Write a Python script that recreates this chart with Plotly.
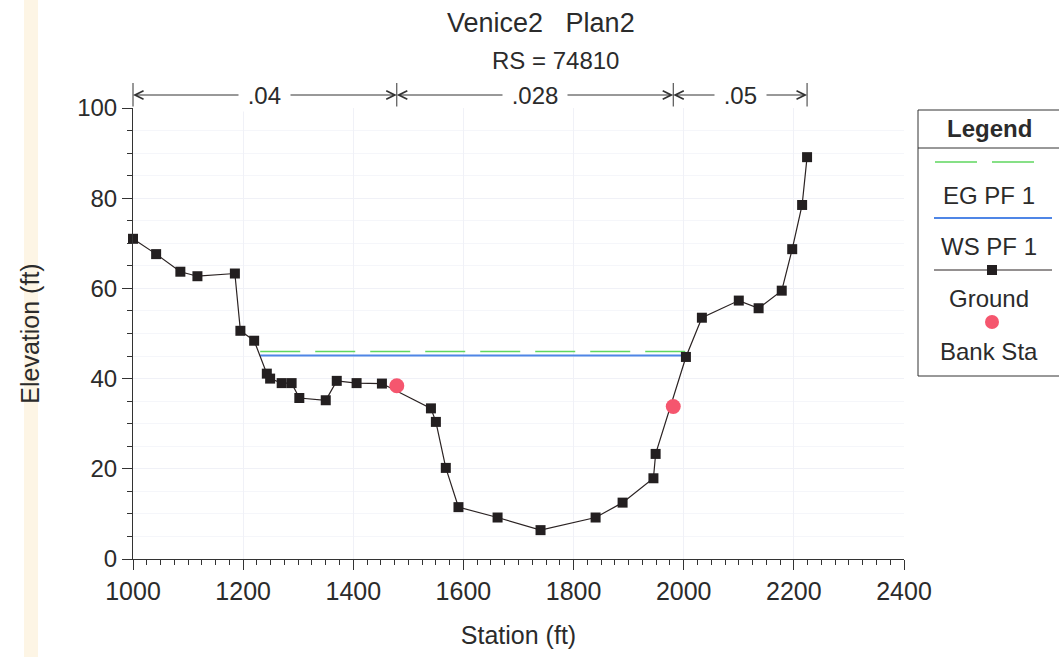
import plotly.graph_objects as go

# ---------------- data ----------------
ground_station = [1000, 1042, 1086, 1117, 1185, 1195, 1220, 1243, 1249, 1270, 1288,
                  1302, 1350, 1370, 1406, 1452, 1541, 1550, 1568, 1591, 1662, 1740,
                  1840, 1889, 1945, 1949, 2004, 2033, 2100, 2136, 2178, 2197, 2215, 2224]
ground_elev = [71.0, 67.6, 63.7, 62.7, 63.3, 50.6, 48.4, 41.1, 40.0, 39.0, 39.0,
               35.7, 35.2, 39.5, 39.0, 38.9, 33.4, 30.4, 20.2, 11.5, 9.2, 6.4,
               9.2, 12.5, 17.9, 23.3, 44.8, 53.5, 57.3, 55.6, 59.5, 68.7, 78.5, 89.1]

bank_station = [1479, 1981]
bank_elev = [38.4, 33.8]

ws_station = [1231, 2005]
ws_elev = [45.1, 45.1]
eg_station = [1231, 2005]
eg_elev = [46.0, 46.0]

n_breaks = [1000, 1479, 1981, 2224]
n_values = [".04", ".028", ".05"]

x_range = [1000, 2400]
y_range = [0, 100]

# ---------------- layout geometry ----------------
W, H = 1059, 657
L, R, T, B = 133, 1059 - 904, 108, 657 - 559
PW, PH = W - L - R, H - T - B


def px(p):
    return (p - L) / PW


def py(p):
    return (H - B - p) / PH


FONT = "Liberation Sans, Arial, sans-serif"
TXT = "#2b2b2b"
EG_COL = "#5fd65f"
WS_COL = "#4f86e6"
GR_COL = "#231f20"
BK_COL = "#f5566e"

fig = go.Figure()

fig.add_trace(go.Scatter(x=eg_station, y=eg_elev, mode="lines",
                         line=dict(color=EG_COL, width=1.5, dash="40px,15px"),
                         name="EG PF 1", showlegend=False))
fig.add_trace(go.Scatter(x=ws_station, y=ws_elev, mode="lines",
                         line=dict(color=WS_COL, width=2),
                         name="WS PF 1", showlegend=False))
fig.add_trace(go.Scatter(x=ground_station, y=ground_elev, mode="lines+markers",
                         line=dict(color="#2a2222", width=1.2),
                         marker=dict(symbol="square", size=10, color=GR_COL),
                         name="Ground", showlegend=False, cliponaxis=False))
fig.add_trace(go.Scatter(x=bank_station, y=bank_elev, mode="markers",
                         marker=dict(symbol="circle", size=15, color=BK_COL),
                         name="Bank Sta", showlegend=False, cliponaxis=False))

annotations = []
shapes = []


def label(x, y, text, size, bold=False, xref="paper", yref="paper", **kw):
    if bold:
        text = "<b>" + text + "</b>"
    d = dict(x=x, y=y, xref=xref, yref=yref, text=text, showarrow=False,
             xanchor="center", yanchor="middle",
             font=dict(family=FONT, size=size, color=TXT))
    d.update(kw)
    annotations.append(d)


# Manning's n arrows above the plot
yn = py(95)
for i, nv in enumerate(n_values):
    a, b = n_breaks[i], n_breaks[i + 1]
    mid = (a + b) / 2
    for head in (a, b):
        annotations.append(dict(x=head, y=yn, xref="x", yref="paper",
                                ax=mid, ay=0, axref="x", ayref="pixel",
                                text="", showarrow=True, arrowhead=5,
                                arrowsize=1.7, arrowwidth=1, arrowcolor="#333333"))
for i, nv in enumerate(n_values):
    mid = (n_breaks[i] + n_breaks[i + 1]) / 2
    label(mid, yn, "&nbsp;" + nv + "&nbsp;", 24, xref="x", bgcolor="white", borderpad=2)
for xb in n_breaks:
    annotations.append(dict(x=xb, y=py(83), xref="x", yref="paper",
                            ax=0, ay=25, axref="pixel", ayref="pixel",
                            text="", showarrow=True, arrowhead=0,
                            arrowwidth=1, arrowcolor="#333333"))

# Title
label(px(541), py(23), "Venice2   Plan2", 27)
label(px(555), py(61), "RS = 74810", 24)

# Custom legend box
shapes.append(dict(type="rect", xref="paper", yref="paper",
                   x0=px(918), x1=px(1070), y0=py(376), y1=py(110),
                   line=dict(color="#333333", width=1), fillcolor="white", layer="below"))
shapes.append(dict(type="line", xref="paper", yref="paper",
                   x0=px(918), x1=px(1070), y0=py(148), y1=py(148),
                   line=dict(color="#333333", width=1)))
label(px(989), py(129), "Legend", 24, bold=True)
shapes.append(dict(type="line", xref="paper", yref="paper",
                   x0=px(935), x1=px(1037), y0=py(162), y1=py(162),
                   line=dict(color=EG_COL, width=1.5, dash="42px,15px")))
shapes.append(dict(type="line", xref="paper", yref="paper",
                   x0=px(934), x1=px(1052), y0=py(218), y1=py(218),
                   line=dict(color=WS_COL, width=2)))
shapes.append(dict(type="line", xref="paper", yref="paper",
                   x0=px(934), x1=px(1052), y0=py(270), y1=py(270),
                   line=dict(color="#2a2222", width=1)))
shapes.append(dict(type="rect", xref="paper", yref="paper",
                   x0=px(987), x1=px(997), y0=py(275), y1=py(265),
                   line=dict(color=GR_COL, width=0), fillcolor=GR_COL))
shapes.append(dict(type="circle", xref="paper", yref="paper",
                   x0=px(985), x1=px(999), y0=py(329), y1=py(315),
                   line=dict(color=BK_COL, width=0), fillcolor=BK_COL))
for txt, yy in [("EG PF 1", 195), ("WS PF 1", 246), ("Ground", 298), ("Bank Sta", 351)]:
    label(px(989), py(yy), txt, 24)

# faint scan strip on the left
shapes.append(dict(type="rect", xref="paper", yref="paper",
                   x0=px(24), x1=px(38), y0=py(657), y1=py(0),
                   line=dict(width=0), fillcolor="rgba(250,225,180,0.35)", layer="below"))

fig.update_layout(
    width=W, height=H,
    margin=dict(l=L, r=R, t=T, b=B, autoexpand=False),
    paper_bgcolor="white", plot_bgcolor="white",
    showlegend=False,
    font=dict(family=FONT, size=24, color=TXT),
    annotations=annotations, shapes=shapes,
    xaxis=dict(range=x_range, dtick=200, showline=True, linecolor="#333333",
               linewidth=1, ticks="outside", ticklen=10, tickcolor="#333333",
               minor=dict(dtick=25, ticks="outside", ticklen=5, tickcolor="#333333",
                          showgrid=False),
               showgrid=True, gridcolor="#f0f1f7", zeroline=False,
               title=dict(text="Station (ft)", font=dict(size=25), standoff=22),
               tickfont=dict(size=25)),
    yaxis=dict(range=y_range, dtick=20, showline=True, linecolor="#333333",
               linewidth=1, ticks="outside", ticklen=10, tickcolor="#333333",
               minor=dict(dtick=5, ticks="outside", ticklen=5, tickcolor="#333333",
                          showgrid=True, gridcolor="#f5f6fa"),
               showgrid=True, gridcolor="#f0f1f7", zeroline=False,
               title=dict(text="Elevation (ft)", font=dict(size=25), standoff=30),
               tickfont=dict(size=24)),
)

fig.write_html("out.html")
